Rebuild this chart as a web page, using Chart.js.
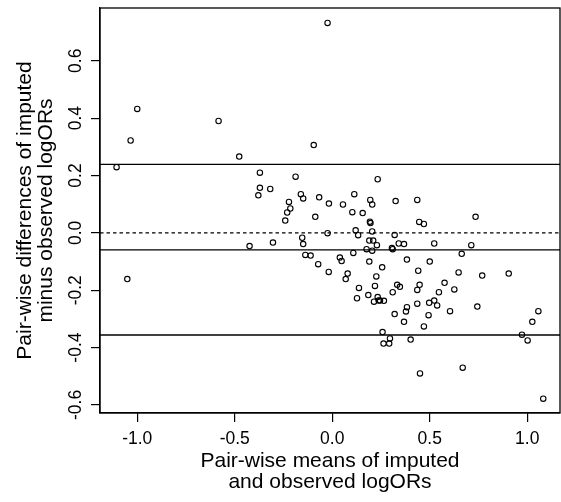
<!DOCTYPE html>
<html>
<head>
<meta charset="utf-8">
<script src="https://cdn.jsdelivr.net/npm/chart.js@4/dist/chart.umd.min.js"></script>
<style>
  html, body { margin: 0; padding: 0; background: #ffffff; }
  #wrap { width: 561px; height: 502px; }
</style>
</head>
<body>
<div id="wrap"><canvas id="chart" width="561" height="502"></canvas></div>
<script>
// Bland-Altman style comparison: imputed vs observed log odds ratios
const meanValues = [
  -1.106, -1.034, -1.000, -0.583, -0.477, -1.051,
  -0.024, -0.095, -0.371, -0.188, 0.233, -0.371, -0.379, -0.318, -0.161, -0.149,
  -0.067, -0.222, -0.017, 0.055, 0.113, 0.195, 0.205, 0.325, 0.436, -0.215,
  -0.231, 0.103, 0.156, -0.087, 0.735, -0.241,
  0.193, 0.196, 0.446, 0.470, -0.024, 0.120, 0.133, 0.205, 0.320, -0.424,
  -0.304, -0.154, -0.149, 0.190, 0.210, 0.229, 0.176, 0.205, 0.341, 0.368,
  0.306, 0.310, -0.138, -0.111, 0.108, 0.039, 0.048, -0.072, 0.190, 0.383,
  0.500, 0.256, -0.018, 0.079, 0.069, 0.226, 0.441, 0.137, 0.219, 0.333,
  0.347, 0.448, 0.436, 0.127, 0.185, 0.310, 0.233, 0.214, 0.238, 0.245,
  0.265, 0.436, 0.497, 0.383, 0.378, 0.320, 0.368, 0.494, 0.470, 0.258,
  0.296, 0.263, 0.292, 0.402, 0.450,
  0.523, 0.713, 0.664, 0.648, 0.769, 0.905, 0.576, 0.547, 0.626, 0.523,
  0.538, 0.604, 0.744, 1.057, 1.026, 0.973, 1.002, 0.669, 1.082
];
const diffValues = [
  0.229, 0.322, 0.432, 0.390, 0.266, -0.161,
  0.732, 0.306, 0.210, 0.196, 0.187, 0.157, 0.131, 0.153, 0.135, 0.120,
  0.124, 0.108, 0.102, 0.099, 0.135, 0.115, 0.099, 0.111, 0.115, 0.085,
  0.071, 0.072, 0.069, 0.056, 0.056, 0.043,
  0.039, 0.034, 0.038, 0.031, -0.001, 0.009, -0.008, 0.005, -0.007, -0.046,
  -0.034, -0.017, -0.039, -0.027, -0.027, -0.043, -0.057, -0.062, -0.037, -0.039,
  -0.053, -0.057, -0.077, -0.079, -0.070, -0.086, -0.098, -0.109, -0.100, -0.093,
  -0.100, -0.120, -0.136, -0.142, -0.161, -0.152, -0.132, -0.192, -0.185, -0.181,
  -0.188, -0.181, -0.199, -0.228, -0.217, -0.207, -0.224, -0.240, -0.236, -0.236,
  -0.237, -0.247, -0.244, -0.259, -0.274, -0.283, -0.310, -0.287, -0.326, -0.346,
  -0.368, -0.386, -0.386, -0.372, -0.490,
  -0.037, -0.043, -0.073, -0.138, -0.149, -0.142, -0.174, -0.207, -0.197, -0.236,
  -0.253, -0.273, -0.257, -0.273, -0.310, -0.355, -0.375, -0.470, -0.578
];

// Reference lines: zero, mean difference and limits of agreement
const zeroLine = 0;
const meanDifference = -0.059;
const limitsOfAgreement = [0.239, -0.356];

const xTickValues = [-1.0, -0.5, 0.0, 0.5, 1.0];
const yTickValues = [-0.6, -0.4, -0.2, 0.0, 0.2, 0.4, 0.6];
const xTitle = ['Pair-wise means of imputed', 'and observed logORs'];
const yTitle = ['Pair-wise differences of imputed', 'minus observed logORs'];

const FONT = '"Liberation Sans", Arial, Helvetica, sans-serif';
Chart.defaults.font.family = FONT;
Chart.defaults.color = '#000000';

const points = meanValues.map((m, i) => ({ x: m, y: diffValues[i] }));

// Horizontal reference lines spanning the plotting region
const refLinesPlugin = {
  id: 'refLines',
  beforeDatasetsDraw(chart) {
    const { ctx, chartArea: a, scales: { y } } = chart;
    const draw = (v, dash) => {
      const py = y.getPixelForValue(v);
      ctx.save();
      ctx.beginPath();
      ctx.setLineDash(dash);
      ctx.lineWidth = 1.3;
      ctx.strokeStyle = '#000000';
      ctx.moveTo(a.left, py);
      ctx.lineTo(a.right, py);
      ctx.stroke();
      ctx.restore();
    };
    draw(zeroLine, [3.5, 3]);
    draw(meanDifference, []);
    limitsOfAgreement.forEach(v => draw(v, []));
  }
};

// Frame around the plotting region and rotated y tick labels
const framePlugin = {
  id: 'frame',
  afterDraw(chart) {
    const { ctx, chartArea: a, scales: { y } } = chart;
    ctx.save();
    ctx.lineWidth = 1.3;
    ctx.strokeStyle = '#000000';
    ctx.strokeRect(a.left, a.top, a.right - a.left, a.bottom - a.top);
    ctx.fillStyle = '#000000';
    ctx.font = '17.5px ' + FONT;
    ctx.textAlign = 'center';
    ctx.textBaseline = 'middle';
    y.ticks.forEach(t => {
      const py = y.getPixelForValue(t.value);
      ctx.save();
      ctx.translate(76, py);
      ctx.rotate(-Math.PI / 2);
      ctx.fillText(t.value.toFixed(1), 0, 0);
      ctx.restore();
    });
    ctx.restore();
  }
};

new Chart(document.getElementById('chart'), {
  type: 'scatter',
  data: {
    datasets: [{
      data: points,
      pointStyle: 'circle',
      pointRadius: 2.7,
      pointHoverRadius: 2.7,
      pointBorderWidth: 1.1,
      borderColor: '#000000',
      backgroundColor: 'rgba(0,0,0,0)'
    }]
  },
  options: {
    responsive: false,
    animation: false,
    devicePixelRatio: 1,
    layout: { autoPadding: false, padding: { top: 8, right: 1, left: 0, bottom: 0 } },
    plugins: { legend: { display: false }, tooltip: { enabled: false } },
    scales: {
      x: {
        type: 'linear',
        min: -1.191,
        max: 1.168,
        afterBuildTicks: s => { s.ticks = xTickValues.map(v => ({ value: v })); },
        afterFit: s => { s.height = 89; },
        ticks: {
          callback: v => Number(v).toFixed(1),
          font: { size: 17.5 },
          color: '#000000',
          padding: 7,
          maxRotation: 0,
          autoSkip: false
        },
        grid: { drawOnChartArea: false, drawTicks: true, tickLength: 9, color: '#000000', lineWidth: 1.2 },
        border: { display: true, color: '#000000', width: 1.3 },
        title: {
          display: true,
          text: xTitle,
          font: { size: 21, lineHeight: 1.0 },
          color: '#000000',
          padding: { top: 0, bottom: 9 }
        }
      },
      y: {
        type: 'linear',
        min: -0.628,
        max: 0.784,
        afterBuildTicks: s => { s.ticks = yTickValues.map(v => ({ value: v })); },
        afterFit: s => { s.width = 100; },
        ticks: { display: false },
        grid: { drawOnChartArea: false, drawTicks: true, tickLength: 9, color: '#000000', lineWidth: 1.2 },
        border: { display: true, color: '#000000', width: 1.3 },
        title: {
          display: true,
          text: yTitle,
          font: { size: 21, lineHeight: 1.03 },
          color: '#000000',
          padding: { top: 14, bottom: 0 }
        }
      }
    }
  },
  plugins: [refLinesPlugin, framePlugin]
});
</script>
</body>
</html>
